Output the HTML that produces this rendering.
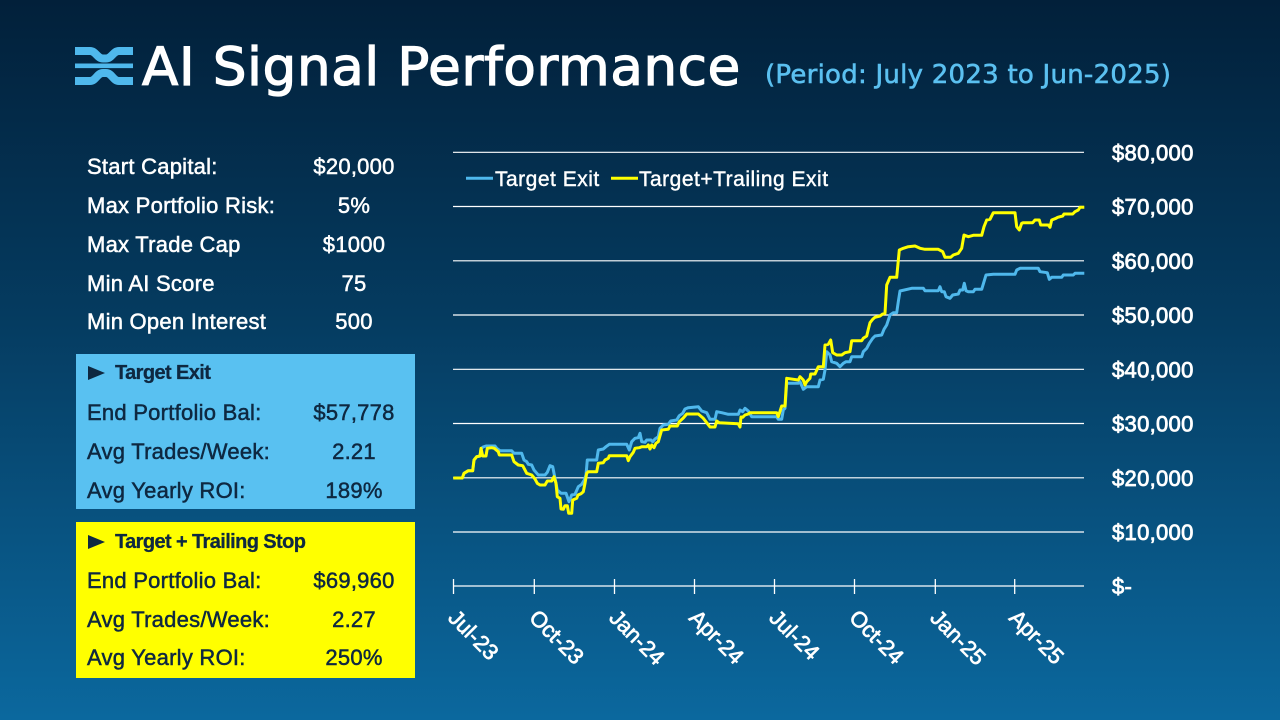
<!DOCTYPE html>
<html>
<head>
<meta charset="utf-8">
<style>
  html,body{margin:0;padding:0;}
  body{width:1280px;height:720px;overflow:hidden;position:relative;
    background:linear-gradient(180deg,#02203a 0%,#053c61 45%,#0b689e 100%);
    font-family:"Liberation Sans",sans-serif;}
  .abs{position:absolute;}
  .row{position:absolute;height:30px;line-height:30px;font-size:22px;letter-spacing:0.25px;white-space:nowrap;}
  .lbl{left:87px;}
  .val{left:284px;width:140px;text-align:center;}
  .w{color:#fff;-webkit-text-stroke:0.5px #fff;}
  .d{color:#0e2841;-webkit-text-stroke:0.5px #0e2841;}
  .hdr{position:absolute;left:115px;height:30px;line-height:30px;font-size:20px;font-weight:bold;letter-spacing:-0.6px;color:#0e2841;white-space:nowrap;-webkit-text-stroke:0.3px #0e2841;}
  .tri{position:absolute;left:88px;width:0;height:0;border-left:17px solid #0e2841;border-top:7px solid transparent;border-bottom:7px solid transparent;}
</style>
</head>
<body>

<svg class="abs" style="left:0;top:0" width="1280" height="720" viewBox="0 0 1280 720">
  <!-- Logo -->
  <g fill="none" stroke="#4fb8ec" stroke-linejoin="round">
    <path d="M75,51 H90 C96,51 97,58.5 103,58.5 H106 C112,58.5 113,51 119,51 H133" stroke-width="8"/>
    <path d="M75,65.8 H133" stroke-width="4.6"/>
    <path d="M75,81 H90 C96,81 97,73 103,73 H106 C112,73 113,81 119,81 H133" stroke-width="8"/>
  </g>

  <!-- Title -->
  <text x="142" y="85" font-family="DejaVu Sans, sans-serif" font-size="53" fill="#ffffff" stroke="#ffffff" stroke-width="1.3" letter-spacing="0.7">AI Signal Performance</text>
  <text x="765" y="83" font-family="DejaVu Sans, sans-serif" font-size="26" fill="#5bc0f0" stroke="#5bc0f0" stroke-width="0.6" letter-spacing="0.25">(Period: July 2023 to Jun-2025)</text>

  <!-- Gridlines -->
  <g stroke="#ffffff" stroke-width="1.2">
    <line x1="453" y1="152.3" x2="1084" y2="152.3"/>
    <line x1="453" y1="206.5" x2="1084" y2="206.5"/>
    <line x1="453" y1="260.8" x2="1084" y2="260.8"/>
    <line x1="453" y1="315" x2="1084" y2="315"/>
    <line x1="453" y1="369.3" x2="1084" y2="369.3"/>
    <line x1="453" y1="423.5" x2="1084" y2="423.5"/>
    <line x1="453" y1="477.8" x2="1084" y2="477.8"/>
    <line x1="453" y1="532" x2="1084" y2="532"/>
    <line x1="453" y1="586" x2="1084" y2="586"/>
  </g>
  <!-- X ticks -->
  <g stroke="#ffffff" stroke-width="1.3">
    <line x1="453.5" y1="579" x2="453.5" y2="594"/>
    <line x1="534.3" y1="579" x2="534.3" y2="594"/>
    <line x1="614.5" y1="579" x2="614.5" y2="594"/>
    <line x1="694.5" y1="579" x2="694.5" y2="594"/>
    <line x1="774.5" y1="579" x2="774.5" y2="594"/>
    <line x1="854.5" y1="579" x2="854.5" y2="594"/>
    <line x1="935.3" y1="579" x2="935.3" y2="594"/>
    <line x1="1014.7" y1="579" x2="1014.7" y2="594"/>
  </g>

  <!-- Y labels -->
  <g font-family="Liberation Sans, sans-serif" font-size="22" fill="#ffffff" stroke="#ffffff" stroke-width="0.8" letter-spacing="0.3">
    <text x="1112" y="160.3">$80,000</text>
    <text x="1112" y="214.5">$70,000</text>
    <text x="1112" y="268.8">$60,000</text>
    <text x="1112" y="323">$50,000</text>
    <text x="1112" y="377.3">$40,000</text>
    <text x="1112" y="431.5">$30,000</text>
    <text x="1112" y="485.8">$20,000</text>
    <text x="1112" y="540">$10,000</text>
    <text x="1112" y="594">$-</text>
  </g>

  <!-- X labels -->
  <g font-family="Liberation Sans, sans-serif" font-size="22" fill="#ffffff" stroke="#ffffff" stroke-width="0.7">
    <text transform="translate(447,619) rotate(45)">Jul-23</text>
    <text transform="translate(528,619) rotate(45)">Oct-23</text>
    <text transform="translate(608,619) rotate(45)">Jan-24</text>
    <text transform="translate(688,619) rotate(45)">Apr-24</text>
    <text transform="translate(768,619) rotate(45)">Jul-24</text>
    <text transform="translate(848,619) rotate(45)">Oct-24</text>
    <text transform="translate(929,619) rotate(45)">Jan-25</text>
    <text transform="translate(1008,619) rotate(45)">Apr-25</text>
  </g>

  <!-- Legend -->
  <line x1="466" y1="178.3" x2="493" y2="178.3" stroke="#4fb8ec" stroke-width="3"/>
  <text x="495" y="186" font-family="Liberation Sans, sans-serif" font-size="21" fill="#ffffff" stroke="#ffffff" stroke-width="0.4" letter-spacing="0.5">Target Exit</text>
  <line x1="611" y1="178.3" x2="638" y2="178.3" stroke="#ffff00" stroke-width="3"/>
  <text x="639" y="186" font-family="Liberation Sans, sans-serif" font-size="21" fill="#ffffff" stroke="#ffffff" stroke-width="0.4" letter-spacing="0.5">Target+Trailing Exit</text>

  <!-- Blue series -->
  <polyline fill="none" stroke="#4fb8ec" stroke-width="3" stroke-linejoin="round" points="453.3,478 462.3,478 464,473.3 466.7,471.7 468.3,470.7 472.7,470.7 474,460 476.7,456.7 480,456 481,449 483,447 486,446 495,446 496.7,448.3 500,450.7 511.7,450.7 514,453.3 521.7,453.3 524,460 526.7,461.7 528.3,464.3 531.7,465 534,470 536,472.3 538.3,475 545,475 547.3,472.3 550,465.7 552.7,466.7 555,478.3 557.3,490 561,493.3 566,493.3 569,501.7 571.7,495 575,494.3 578.3,486.7 581.7,484.3 584.3,480 586,475 587.3,460 596.7,460 598.3,450 603.3,449 606,446.7 609.3,444.3 626.7,444.3 629.3,450 631.7,441.7 635,438.3 638.3,437.7 640,433.3 641.7,441.7 645,442.3 646.7,440 651,440 652.7,441.7 655,439 658.3,436.7 660,428.3 663.3,425 668.3,424.3 670.7,421 676.7,420 679.3,415.7 682.7,413.3 685,409 688.3,407.7 698.3,406.7 701.7,411 706.7,412.7 710,419.3 715,419.3 716.7,411.7 721.7,412.7 728.3,414.3 738.3,414.3 740,410 742.7,411.7 745,408.3 748.3,411 751.7,416.7 776.7,416.7 778.3,419.3 781.7,419.3 783.3,410 785,408.3 786.7,383.3 798.3,383.3 800,381.7 803.3,389.3 806.7,386.7 818.3,386.7 820,380 823.3,379.3 825,370 826.7,351.7 830,355 831.7,361.7 836.7,363.3 840,366.7 843.3,363.3 846,361.7 850,361.7 851.7,356.7 861.7,356.7 863.3,351.7 866.7,348.3 869.3,343.3 872.7,338.3 875,336 881.7,335 884,329.3 886.7,325 890,315 893.3,312.7 896.7,312.7 898.3,301.7 900,291 911.7,288.3 923.3,288.3 925,290.7 938.3,290.7 940,286.7 941.7,291.7 944.3,291.7 946,296.7 950,298.3 952.7,295 958.3,294 960,290 962.7,290 964.3,283.3 966,290.7 968.3,291.7 973.3,291.7 975,289.3 981.7,289.3 984,281.7 986,275 993.3,274.3 1015,274.3 1016.7,270 1020,268.3 1038.3,268.3 1040,271.7 1047.3,272.7 1049.3,279.3 1051.7,277.3 1061.7,277.3 1063.3,275 1073.3,275 1075,273.3 1084.3,273.3"/>

  <!-- Yellow series -->
  <polyline fill="none" stroke="#ffff00" stroke-width="3" stroke-linejoin="round" points="453.3,478 462.3,478 464,473.3 466.7,471.7 468.3,470.7 472.7,470.7 474,460 476.7,456.7 480,456 481,448.3 482.7,456 486,456 487.3,448.3 491.7,447.7 494.3,448.3 498.3,451.7 499.3,455 511.7,455 514,461.7 518.3,465 522.7,465.7 525,470 526.7,473.3 531.7,475 535,479 537.3,483.3 540,485 545,485 547.3,481 551.7,481 554,476.7 556,483.3 557.3,496.7 560,498.3 561,509 563.3,509.3 565,505.7 567.3,505.7 568.7,513.3 571.7,513.3 572.7,500 576.7,498.3 578,495 581,493.7 583.3,491.7 585,483.3 586.7,473.3 588.3,471.7 596.7,471.7 598.3,463.3 603.3,462.7 605,460 608.3,458.3 609.3,455.7 626.7,455.7 628.3,460.7 630,456.7 633.3,452.3 635,448.3 639.3,447.7 641.7,446.7 646.7,446.7 648.3,445 650,449 651.7,445 654,447.7 656,443.3 658.3,441.7 660,435.7 661.7,430 668.3,429.3 670,426 677.3,426 679.3,421.7 683.3,418 686.7,414 698.3,414 703.3,418.3 706.7,422.7 710,427 715,427 716.7,421 719.3,422.7 738.3,423.8 740,427 741,417 742.7,417.3 745,415 748.3,414 750,412.7 776.7,412.7 778.3,416.7 781.7,406 785,406 786.7,378.3 798.3,380 800,376.7 803.3,380 805,385 806.7,381.7 810,378.3 810.7,374 815,374 818.3,366.7 823.3,366.7 825,345 828.3,344.3 830.7,340 832.7,352.7 836.7,355 841.7,355 845,352.7 850,351.7 851.7,340.7 861.7,340.7 863.3,338.3 866.7,336 868.3,329.3 870,322.7 872.7,319.3 875,317.3 880,316 882.7,314 885,313.3 886.7,285 890,277.3 896.7,277.3 899.3,250 903.3,248.3 908.3,246.7 915,246 920,248.3 925,249.3 938.3,249.3 942.7,251.7 945,257.3 950.7,257.3 953.3,255 958.3,253.3 961.7,248.3 964,235 968.3,236.7 973.3,235.3 981.7,235.3 984,226.7 986.7,220 990,219.3 993.3,212.7 1015,212.7 1016.7,226.7 1019.3,230 1021.7,223.3 1023.3,222.7 1032.7,222.7 1035,220 1039.3,220 1040.7,225 1048.3,225 1050,227.3 1051.7,220 1056,218.3 1057.7,217.3 1062.7,216 1064,214 1072.7,214 1075,211.7 1078.3,210 1080,207.3 1084.3,207.3"/>
</svg>

<!-- Parameters panel -->
<div class="row lbl w" style="top:152px;">Start Capital:</div>
<div class="row val w" style="top:152px;">$20,000</div>
<div class="row lbl w" style="top:191px;">Max Portfolio Risk:</div>
<div class="row val w" style="top:191px;">5%</div>
<div class="row lbl w" style="top:230px;">Max Trade Cap</div>
<div class="row val w" style="top:230px;">$1000</div>
<div class="row lbl w" style="top:269px;">Min AI Score</div>
<div class="row val w" style="top:269px;">75</div>
<div class="row lbl w" style="top:307px;">Min Open Interest</div>
<div class="row val w" style="top:307px;">500</div>

<!-- Blue box -->
<div class="abs" style="left:76px;top:354px;width:339px;height:155px;background:#59c1f1;"></div>
<div class="tri" style="top:366px;"></div>
<div class="hdr" style="top:358px;">Target Exit</div>
<div class="row lbl d" style="top:398px;">End Portfolio Bal:</div>
<div class="row val d" style="top:398px;">$57,778</div>
<div class="row lbl d" style="top:437px;">Avg Trades/Week:</div>
<div class="row val d" style="top:437px;">2.21</div>
<div class="row lbl d" style="top:476px;">Avg Yearly ROI:</div>
<div class="row val d" style="top:476px;">189%</div>

<!-- Yellow box -->
<div class="abs" style="left:76px;top:522px;width:339px;height:156px;background:#ffff00;"></div>
<div class="tri" style="top:535px;"></div>
<div class="hdr" style="top:527px;">Target + Trailing Stop</div>
<div class="row lbl d" style="top:566px;">End Portfolio Bal:</div>
<div class="row val d" style="top:566px;">$69,960</div>
<div class="row lbl d" style="top:605px;">Avg Trades/Week:</div>
<div class="row val d" style="top:605px;">2.27</div>
<div class="row lbl d" style="top:643px;">Avg Yearly ROI:</div>
<div class="row val d" style="top:643px;">250%</div>

</body>
</html>
